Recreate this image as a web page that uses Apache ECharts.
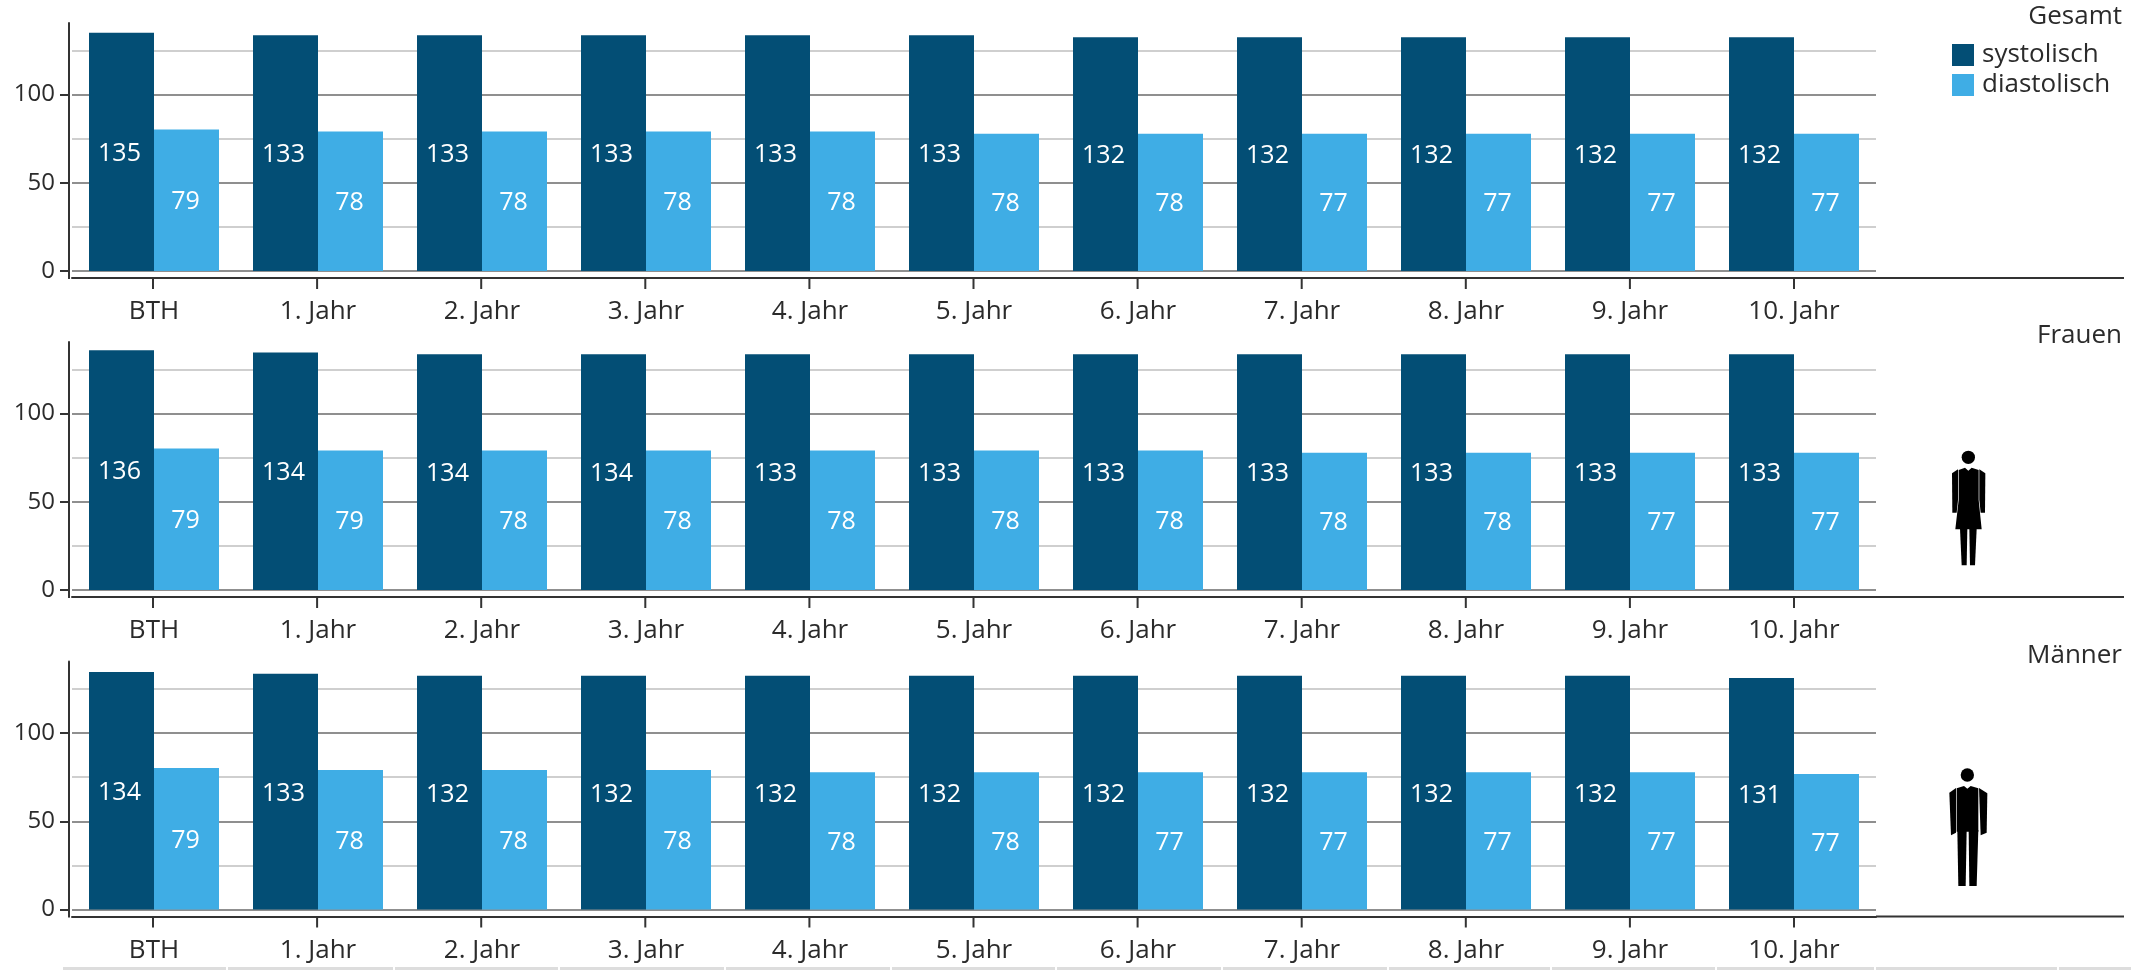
<!DOCTYPE html>
<html>
<head>
<meta charset="utf-8">
<title>Blutdruck</title>
<script src="https://cdn.jsdelivr.net/npm/echarts@6/dist/echarts.min.js"></script>
<style>
  html, body { margin: 0; padding: 0; background: #fff; }
  #chart { width: 2138px; height: 970px; }
</style>
</head>
<body>
<div id="chart"></div>
<script>
var categories = ['BTH', '1. Jahr', '2. Jahr', '3. Jahr', '4. Jahr', '5. Jahr', '6. Jahr', '7. Jahr', '8. Jahr', '9. Jahr', '10. Jahr'];
var yTicks = [0, 50, 100];

// bar heights as measured, the printed labels sit slightly below them in the original
var gesamtSys = [135, 133.5, 133.5, 133.5, 133.5, 133.5, 132.5, 132.5, 132.5, 132.5, 132.5];
var gesamtDia = [80.1, 79, 79, 79, 79, 77.8, 77.8, 77.8, 77.8, 77.8, 77.8];
var frauenSys = [135.8, 134.6, 133.5, 133.5, 133.5, 133.5, 133.5, 133.5, 133.5, 133.5, 133.5];
var frauenDia = [80.1, 79, 79, 79, 79, 79, 79, 77.8, 77.8, 77.8, 77.8];
var maennerSys = [134.6, 133.5, 132.4, 132.4, 132.4, 132.4, 132.4, 132.4, 132.4, 132.4, 131.2];
var maennerDia = [80.1, 79, 79, 79, 77.8, 77.8, 77.8, 77.8, 77.8, 77.8, 76.7];

var gesamtSysLabels = [135, 133, 133, 133, 133, 133, 132, 132, 132, 132, 132];
var gesamtDiaLabels = [79, 78, 78, 78, 78, 78, 78, 77, 77, 77, 77];
var frauenSysLabels = [136, 134, 134, 134, 133, 133, 133, 133, 133, 133, 133];
var frauenDiaLabels = [79, 79, 78, 78, 78, 78, 78, 78, 78, 77, 77];
var maennerSysLabels = [134, 133, 132, 132, 132, 132, 132, 132, 132, 132, 131];
var maennerDiaLabels = [79, 78, 78, 78, 78, 78, 77, 77, 77, 77, 77];

var seriesNames = ['systolisch', 'diastolisch'];
var panelTitles = ['Gesamt', 'Frauen', 'M\u00e4nner'];

var FONT = '"Open Sans", sans-serif';
var TEXT = '#2b2b2b';
var DARK = '#034e75';
var LIGHT = '#3fade5';
var AXIS = '#333333';

var panels = [
  {top: 23, sys: gesamtSys, dia: gesamtDia, sysLabels: gesamtSysLabels, diaLabels: gesamtDiaLabels},
  {top: 342, sys: frauenSys, dia: frauenDia, sysLabels: frauenSysLabels, diaLabels: frauenDiaLabels},
  {top: 661.5, sys: maennerSys, dia: maennerDia, sysLabels: maennerSysLabels, diaLabels: maennerDiaLabels}
];
var gridH = 248;
var yMax = gridH / 1.765;

function barSeries(name, i, values, labels, color, offset) {
  return {
    name: name,
    type: 'bar',
    xAxisIndex: i,
    yAxisIndex: i,
    data: values,
    barWidth: 65,
    barGap: 0,
    itemStyle: {color: color},
    label: {
      show: true,
      position: 'inside',
      offset: offset,
      color: '#fff',
      fontFamily: FONT,
      fontSize: 25,
      formatter: function (p) { return labels[p.dataIndex]; }
    }
  };
}

var titles = [], grids = [], xAxes = [], yAxes = [], tickAxes = [], series = [], extras = [];

panels.forEach(function (p, i) {
  titles.push({
    text: panelTitles[i],
    right: 16,
    top: p.top - 19,
    padding: 0,
    textStyle: {fontFamily: FONT, fontSize: 26, fontWeight: 'normal', color: TEXT}
  });
  grids.push({left: 72, width: 1804, top: p.top, height: gridH});
  xAxes.push({
    type: 'category',
    gridIndex: i,
    data: categories,
    offset: 7,
    axisLine: {onZero: false, lineStyle: {color: AXIS, width: 2}},
    axisTick: {show: false},
    axisLabel: {color: TEXT, fontFamily: FONT, fontSize: 26, margin: 21},
    splitLine: {show: false}
  });
  // this axis holds the bars and the gridlines every 25
  yAxes.push({
    type: 'value',
    gridIndex: i,
    position: 'left',
    min: 0,
    max: yMax,
    interval: 25,
    offset: 3,
    axisLine: {show: true, lineStyle: {color: AXIS, width: 2}},
    axisTick: {show: false},
    axisLabel: {show: false},
    splitLine: {show: true, showMaxLine: false, lineStyle: {color: ['#8f8f8f', '#cfcfcf'], width: 2}}
  });
  // second axis only for ticks and labels at 0, 50, 100
  tickAxes.push({
    type: 'value',
    gridIndex: i,
    position: 'left',
    min: 0,
    max: yMax,
    interval: 50,
    offset: 3,
    axisLine: {show: false},
    axisTick: {show: true, length: 9, customValues: yTicks, lineStyle: {color: AXIS, width: 2}},
    axisLabel: {color: TEXT, fontFamily: FONT, fontSize: 24, margin: 14, customValues: yTicks},
    splitLine: {show: false}
  });
  series.push(barSeries(seriesNames[0], i, p.sys, p.sysLabels, DARK, [-2, 2]));
  series.push(barSeries(seriesNames[1], i, p.dia, p.diaLabels, LIGHT, [-1, 2]));

  // y axis runs down to the offset x axis, x axis runs on past the last category
  var axisY = p.top + gridH + 7;
  extras.push({type: 'rect', silent: true, shape: {x: 68, y: p.top + gridH, width: 2, height: 8}, style: {fill: AXIS}});
  extras.push({type: 'rect', silent: true, shape: {x: 1876, y: axisY - 1, width: 248, height: 2}, style: {fill: AXIS}});
  // category ticks, one below each group
  categories.forEach(function (c, k) {
    extras.push({type: 'rect', silent: true, shape: {x: 152 + k * 164.1, y: axisY, width: 2, height: 11}, style: {fill: AXIS}});
  });
});

// light table rule along the bottom edge
var ruleStops = [63, 228, 395, 560, 726, 892, 1057, 1223, 1389, 1552, 1717, 1876, 2059, 2133];
for (var r = 0; r < ruleStops.length - 1; r++) {
  extras.push({type: 'rect', silent: true, shape: {x: ruleStops[r], y: 967, width: ruleStops[r + 1] - ruleStops[r] - 2, height: 3}, style: {fill: '#dddddd'}});
}

function poly(pts) {
  return {type: 'polygon', silent: true, shape: {points: pts}, style: {fill: '#000'}};
}

// person icons, drawn in 3x units and scaled down
extras.push({
  type: 'group', x: 1850, y: 420, scaleX: 1 / 3, scaleY: 1 / 3, silent: true,
  children: [
    {type: 'circle', silent: true, shape: {cx: 355, cy: 112, r: 20}, style: {fill: '#000'}},
    poly([[326, 150], [345, 143], [355, 152], [365, 143], [386, 150], [386, 240], [395, 328], [316, 328], [326, 240]]),
    poly([[306, 160], [324, 148], [324, 240], [320, 278], [307, 278]]),
    poly([[406, 160], [388, 148], [388, 240], [392, 278], [405, 278]]),
    poly([[330, 326], [352, 326], [350, 436], [335, 436]]),
    poly([[358, 326], [380, 326], [375, 436], [360, 436]]),
    // man
    {type: 'circle', silent: true, shape: {cx: 352, cy: 1065, r: 20}, style: {fill: '#000'}},
    poly([[320, 1105], [342, 1098], [352, 1106], [362, 1098], [385, 1105], [385, 1235], [320, 1235]]),
    poly([[298, 1118], [318, 1104], [318, 1238], [303, 1246]]),
    poly([[387, 1104], [412, 1120], [410, 1238], [392, 1246]]),
    poly([[322, 1230], [350, 1230], [347, 1398], [325, 1398]]),
    poly([[356, 1230], [385, 1230], [380, 1398], [358, 1398]])
  ]
});

var chart = echarts.init(document.getElementById('chart'));
chart.setOption({
  animation: false,
  backgroundColor: '#fff',
  title: titles,
  legend: {
    left: 1952,
    top: 42,
    orient: 'vertical',
    padding: 0,
    itemWidth: 22,
    itemHeight: 22,
    itemGap: 4,
    icon: 'rect',
    data: seriesNames,
    textStyle: {color: TEXT, fontFamily: FONT, fontSize: 26, padding: [0, 0, 0, 3]}
  },
  grid: grids,
  xAxis: xAxes,
  yAxis: yAxes.concat(tickAxes),
  series: series,
  graphic: extras
});
</script>
</body>
</html>
